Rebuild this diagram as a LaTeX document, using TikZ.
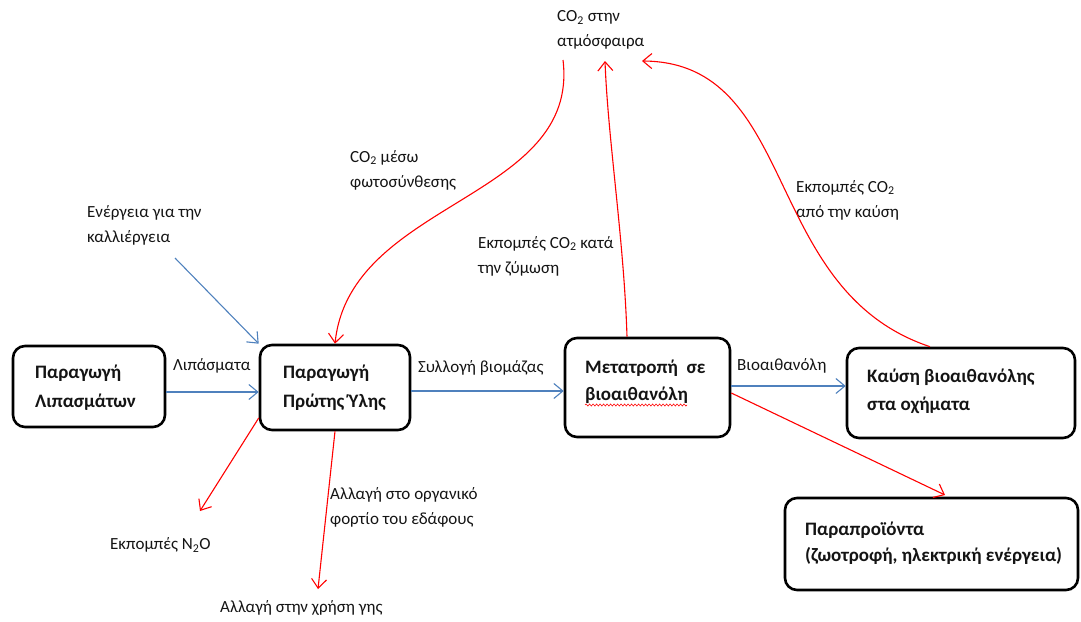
\documentclass[tikz,border=0pt]{standalone}
\usepackage{fontspec}
\setmainfont{Carlito}
\usetikzlibrary{arrows.meta,decorations.pathmorphing}

\definecolor{flowblue}{RGB}{79,129,189}
\definecolor{emitred}{RGB}{255,0,0}
\definecolor{inktext}{RGB}{20,20,20}

\tikzset{
  stepbox/.style={draw=black, line width=2.6pt, rounded corners=12pt,
    inner sep=0pt},
  boxtext/.style={inner sep=0pt, anchor=west, align=left, text=inktext,
    font=\fontsize{19}{29}\selectfont\bfseries},
  lbl/.style={inner sep=0pt, anchor=west, align=left, text=inktext,
    font=\fontsize{17}{25}\selectfont},
  tip/.style={-{Straight Barb[length=9pt,width=15pt,line width=1.1pt]}},
  bluearr/.style={tip, draw=flowblue, line width=1.1pt},
  redarr/.style={tip, draw=emitred, line width=1.1pt},
}

\begin{document}
\begin{tikzpicture}[x=1pt,y=-1pt]
\useasboundingbox (0,0) rectangle (1081,621);

% process boxes
\node[stepbox, minimum width=152pt, minimum height=81pt] (lipasm) at (89,386.5) {};
\node[stepbox, minimum width=150pt, minimum height=85pt] (prwti) at (335,387.5) {};
\node[stepbox, minimum width=165pt, minimum height=99pt] (metatr) at (647.5,387.5) {};
\node[stepbox, minimum width=228pt, minimum height=90pt] (kausi) at (961,393) {};
\node[stepbox, minimum width=293pt, minimum height=92pt] (parapr) at (931.5,544) {};

% box captions
\node[boxtext] (lipasmT) at (35,387.5) {Παραγωγή\\Λιπασμάτων};
\node[boxtext] (prwtiT) at (283,387.5) {Παραγωγή\\Πρώτης Ύλης};
\node[boxtext, font=\fontsize{19}{27}\selectfont\bfseries] (metatrT) at (585,381.5) {Μετατροπή\ \ σε\\βιοαιθανόλη};
\node[boxtext, font=\fontsize{19}{28}\selectfont\bfseries] (kausiT) at (867,391) {Καύση βιοαιθανόλης\\στα οχήματα};
\node[boxtext, font=\fontsize{19}{26}\selectfont\bfseries] (paraprT) at (805,543) {Παραπροϊόντα\\(ζωοτροφή, ηλεκτρική ενέργεια)};

% spell-check underline
\draw[emitred, line width=0.6pt, decorate,
  decoration={snake, amplitude=1pt, segment length=3.5pt}]
  (585,405) -- (687,405);

% labels
\node[lbl] (atm) at (557,30) {CO\textsubscript{2} στην\\ατμόσφαιρα};
\node[lbl] (energ) at (87,225.5) {Ενέργεια για την\\καλλιέργεια};
\node[lbl] (photo) at (350,170) {CO\textsubscript{2} μέσω\\φωτοσύνθεσης};
\node[lbl] (zym) at (478,256) {Εκπομπές CO\textsubscript{2} κατά\\την ζύμωση};
\node[lbl] (kaus) at (796,200) {Εκπομπές CO\textsubscript{2}\\από την καύση};
\node[lbl] (lipl) at (173,366) {Λιπάσματα};
\node[lbl] (syll) at (418,368) {Συλλογή βιομάζας};
\node[lbl] (bioe) at (737,366) {Βιοαιθανόλη};
\node[lbl] (n2o) at (110,545) {Εκπομπές N\textsubscript{2}O};
\node[lbl] (organ) at (330,507) {Αλλαγή στο οργανικό\\φορτίο του εδάφους};
\node[lbl] (gis) at (220,608) {Αλλαγή στην χρήση γης};

% free ends of connectors
\coordinate (energStart) at (175,258);
\coordinate (n2oEnd) at (200,511);
\coordinate (gisEnd) at (318,589);
\coordinate (parEnd) at (945,495);
\coordinate (atmLeft) at (563,60);
\coordinate (atmMid) at (605,61);
\coordinate (atmRight) at (642,61);

% material flow
\draw[bluearr] (lipasm.east |- 0,392) -- (prwti.west |- 0,392);
\draw[bluearr] (energStart) -- (prwti.north west);
\draw[bluearr] (prwti.east |- 0,391) -- (metatr.west |- 0,391);
\draw[bluearr] (metatr.east |- 0,386) -- (kausi.west |- 0,386);

% emissions and side streams
\draw[redarr] (prwti.west |- 0,418) -- (n2oEnd);
\draw[redarr] (prwti.south -| 335,0) -- (gisEnd);
\draw[redarr] (metatr.east |- 0,393) -- (parEnd);

% carbon exchange with the atmosphere
\draw[redarr] (atmLeft) .. controls (580,200) and (350,200) .. (prwti.north);
\draw[redarr] (metatr.north -| 627,0) .. controls (624,240) and (608,140) .. (atmMid);
\draw[redarr] (kausi.north -| 930,0) .. controls (760,290) and (800,62) .. (atmRight);
\end{tikzpicture}
\end{document}
